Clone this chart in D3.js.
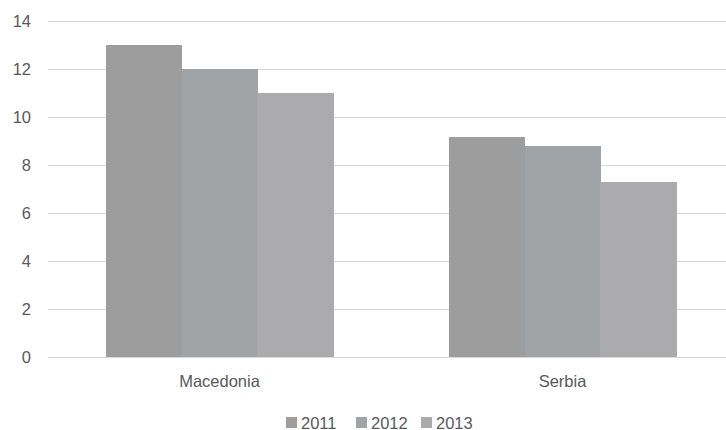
<!DOCTYPE html>
<html>
<head>
<meta charset="utf-8">
<script src="https://cdn.jsdelivr.net/npm/d3@7"></script>
<style>
  html, body { margin: 0; padding: 0; background: #fff; }
  svg { display: block; }
  text { font-family: "Liberation Sans", Arial, sans-serif; fill: #595959; }
</style>
</head>
<body>
<svg id="chart" width="726" height="430"></svg>
<script>
const categories = ["Macedonia", "Serbia"];
const seriesNames = ["2011", "2012", "2013"];
const values2011 = [13.0, 9.15];
const values2012 = [12.0, 8.8];
const values2013 = [11.0, 7.28];
const seriesValues = [values2011, values2012, values2013];
const yTicks = [0, 2, 4, 6, 8, 10, 12, 14];
const colors = ["#9d9d9e", "#a1a4a6", "#ababae"];

(function () {
const svg = d3.select("#chart");
const plotLeft = 48, plotRight = 734, plotTop = 21, plotBottom = 357;

const y = d3.scaleLinear().domain([0, 14]).range([plotBottom, plotTop]);
const x0 = d3.scaleBand().domain(categories).range([plotLeft, plotRight])
  .paddingInner(0.338).paddingOuter(0.169);
const x1 = d3.scaleBand().domain(seriesNames).range([0, x0.bandwidth()]).padding(0);

// gridlines
const yAxis = d3.axisLeft(y).tickValues(yTicks).tickSize(-(plotRight - plotLeft)).tickPadding(17).tickFormat(d3.format("d"));
const gy = svg.append("g").attr("transform", `translate(${plotLeft},0)`).call(yAxis);
gy.select(".domain").remove();
gy.selectAll(".tick line").attr("stroke", "#d9d9d9").attr("stroke-width", 1);
gy.selectAll(".tick text").attr("font-size", 16.5).attr("fill", "#595959")
  .style("font-family", "'Liberation Sans', Arial, sans-serif");

// bars
const groups = svg.append("g").attr("shape-rendering", "crispEdges")
  .selectAll("g").data(categories).join("g")
  .attr("transform", d => `translate(${x0(d)},0)`);
groups.selectAll("rect")
  .data((c, ci) => seriesNames.map((s, si) => ({ s, si, v: seriesValues[si][ci] })))
  .join("rect")
  .attr("x", d => x1(d.s))
  .attr("width", x1.bandwidth() + 0.5)
  .attr("y", d => y(d.v))
  .attr("height", d => y(0) - y(d.v))
  .attr("fill", d => colors[d.si]);

// baseline axis
const xAxis = d3.axisBottom(x0).tickSize(0).tickPadding(18);
const gx = svg.append("g").attr("transform", `translate(0,${plotBottom})`).call(xAxis);
gx.select(".domain").attr("stroke", "#d9d9d9");
gx.selectAll(".tick text").attr("font-size", 16.5).attr("fill", "#595959")
  .style("font-family", "'Liberation Sans', Arial, sans-serif");

// legend
const legendX = [286, 356, 421];
const lg = svg.append("g");
seriesNames.forEach((name, i) => {
  lg.append("rect").attr("x", legendX[i]).attr("y", 417).attr("width", 11).attr("height", 11).attr("fill", colors[i]);
  lg.append("text").attr("x", legendX[i] + 15).attr("y", 428.5).attr("font-size", 16.5).text(name);
});
})();
</script>
</body>
</html>
